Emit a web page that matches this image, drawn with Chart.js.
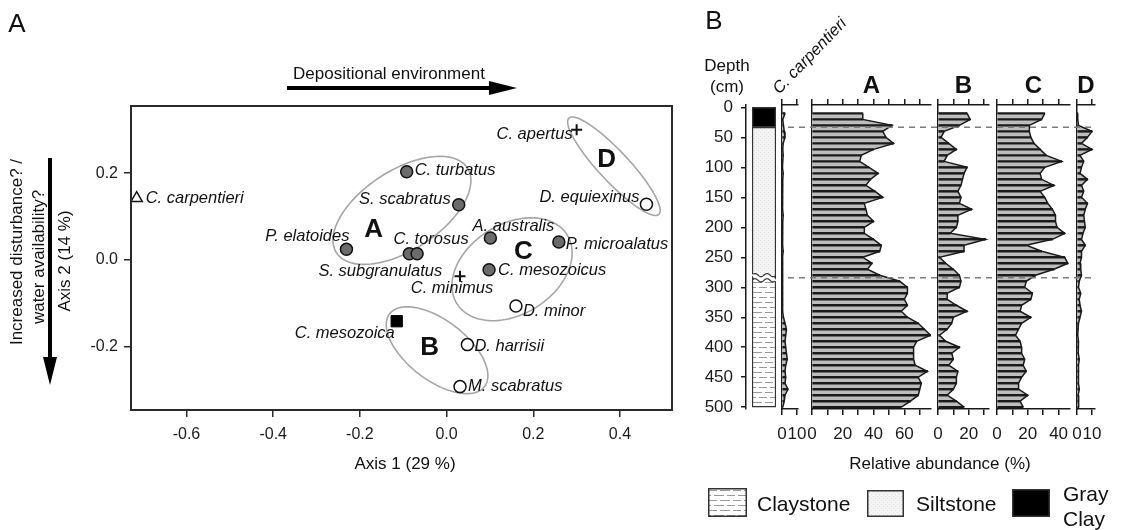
<!DOCTYPE html>
<html><head><meta charset="utf-8"><title>Ordination and stratigraphic distribution</title>
<script src="https://cdn.jsdelivr.net/npm/chart.js@4.4.1/dist/chart.umd.min.js"></script>
<style>
html,body{margin:0;padding:0;background:#fff}
#wrap{position:relative;width:1121px;height:530px;overflow:hidden;font-family:"Liberation Sans",Arial,Helvetica,sans-serif;color:#111}
#wrap canvas{position:absolute;top:0}
.t{position:absolute;white-space:nowrap;line-height:1}
.c{transform:translate(-50%,-50%)}
.l{transform:translate(0,-50%)}
.r{transform:translate(-50%,-50%) rotate(-90deg)}
</style></head><body><div id="wrap">
<canvas id="ord" width="690" height="530" style="left:0"></canvas>
<canvas id="depthAx"></canvas>
<canvas id="litho"></canvas>
<canvas id="colCarp"></canvas>
<canvas id="colA"></canvas>
<canvas id="colB"></canvas>
<canvas id="colC"></canvas>
<canvas id="colD"></canvas>
<canvas id="bounds"></canvas>
<canvas id="swClay" width="39" height="29" style="left:708px;top:488px"></canvas>
<canvas id="swSilt" width="37" height="27" style="left:867px;top:490px"></canvas>
<canvas id="swGray" width="38" height="28" style="left:1012px;top:489px"></canvas>
<svg width="1121" height="530" style="position:absolute;left:0;top:0;pointer-events:none">
 <line x1="287" y1="88" x2="494" y2="88" stroke="#000" stroke-width="4"/>
 <polygon points="517,88 489,81 489,95" fill="#000"/>
 <line x1="50" y1="158" x2="50" y2="362" stroke="#000" stroke-width="4"/>
 <polygon points="50,385 43,357 57,357" fill="#000"/>
</svg>
<div class="t c" style="left:17px;top:23px;font-size:26px">A</div>
<div class="t c" style="left:714px;top:20px;font-size:26px">B</div>
<div class="t c" style="left:389px;top:73px;font-size:17px">Depositional environment</div>
<div class="t c" style="left:405px;top:463px;font-size:17px">Axis 1 (29 %)</div>
<div class="t r" style="left:64px;top:261px;font-size:17px">Axis 2 (14 %)</div>
<div class="t r" style="left:16px;top:252px;font-size:17px">Increased disturbance? /</div>
<div class="t r" style="left:38px;top:257px;font-size:17px">water availability?</div>
<div class="t c" style="left:727px;top:65px;font-size:17px">Depth</div>
<div class="t c" style="left:727px;top:86px;font-size:17px">(cm)</div>
<div class="t" style="left:781px;top:80px;font-size:16.5px;font-style:italic;transform-origin:0 100%;transform:rotate(-46deg)">C. carpentieri</div>
<div class="t c" style="left:871.5px;top:85px;font-size:24px;font-weight:bold">A</div>
<div class="t c" style="left:963.5px;top:85px;font-size:24px;font-weight:bold">B</div>
<div class="t c" style="left:1033.5px;top:85px;font-size:24px;font-weight:bold">C</div>
<div class="t c" style="left:1086px;top:85px;font-size:24px;font-weight:bold">D</div>
<div class="t c" style="left:940px;top:463px;font-size:17px">Relative abundance (%)</div>
<div class="t l" style="left:757px;top:503px;font-size:21px">Claystone</div>
<div class="t l" style="left:916px;top:503px;font-size:21px">Siltstone</div>
<div class="t l" style="left:1063px;top:493px;font-size:21px">Gray</div>
<div class="t l" style="left:1063px;top:518px;font-size:21px">Clay</div>
</div>
<script>
// ---------------- DATA: panel A (ordination) ----------------
const species = ["C. carpentieri","C. turbatus","S. scabratus","P. elatoides","S. subgranulatus","C. torosus","A. australis","P. microalatus","C. mesozoicus","C. apertus","D. equiexinus","C. minimus","D. minor","C. mesozoica","D. harrisii","M. scabratus"];
const axis1 = [-0.715,-0.092,0.028,-0.231,-0.086,-0.068,0.101,0.259,0.098,0.300,0.461,0.031,0.160,-0.115,0.048,0.031];
const axis2 = [0.142,0.203,0.127,0.024,0.014,0.014,0.050,0.041,-0.023,0.300,0.128,-0.038,-0.107,-0.142,-0.196,-0.293];
const markerGroup = ["triangle","filled","filled","filled","filled","filled","filled","filled","filled","cross","open","cross","open","square","open","open"];
const groupNames = ["A","B","C","D"];
const groupCentreX = [-0.103,-0.022,0.151,0.386];
const groupCentreY = [0.114,-0.209,-0.022,0.216];
const groupSemiMajor = [0.180,0.138,0.150,0.152];
const groupSemiMinor = [0.092,0.069,0.104,0.035];
const groupAngleDeg = [33,-37.5,32,-47];
const groupLabelX = [-0.168,-0.039,0.177,0.369];
const groupLabelY = [0.070,-0.204,0.018,0.230];
const axis1Ticks = [-0.6,-0.4,-0.2,0.0,0.2,0.4];
const axis2Ticks = [-0.2,0.0,0.2];

// ---------------- DATA: panel B (stratigraphy) ----------------
const depth = [10,20,30,40,50,60,70,80,90,100,110,120,130,140,150,160,170,180,190,200,210,220,230,240,250,260,270,280,290,300,310,320,330,340,350,360,370,380,390,400,410,420,430,440,450,460,470,480,490,500];
const cCarpentieri = [2,0.5,1,1.5,2,0.8,0.5,0.8,0.5,0.3,0.8,0.5,0.3,0.5,0.3,0.5,0.3,0.8,0.5,0.3,0.5,0.3,0.5,0.8,0.3,0.5,0.3,0.5,0.3,0.5,0.3,0.5,0.3,0.5,1,2,3,2.5,2,2.5,3,3.5,2.5,2,2.5,2,4,2,1.5,0.5];
const groupA = [33,33,52,46,48,53,40,32,31,37,43,38,35,41,46,34,35,36,40,34,34,40,45,44,33,39,36,44,57,62,62,60,62,58,62,69,73,77,68,66,66,66,67,75,69,71,70,69,64,58];
const groupB = [19,21,14,4,2,7,12,6,4,19,17,16,15,13,15,14,22,13,13,12,8,31,17,17,1,5,10,14,15,14,6,6,12,19,10,9,6,1,5,14,9,10,7,13,12,12,10,6,12,17];
const groupC = [31,29,21,21,22,24,28,32,42,31,28,29,37,28,31,33,36,38,38,39,44,36,19,29,44,46,37,25,19,18,23,22,16,15,22,16,14,12,15,16,16,18,17,19,16,14,14,20,15,17];
const groupD = [0.3,0.5,1,10,7,3,10,2,4.5,3,2,7,3,4.5,3,7,5.5,4.5,5,5.5,4,3,5.5,3,3,2,2.5,3,1.5,1,2.5,1.5,2,3,2,1,0.7,0.5,1,1,0.7,1.5,1,1.2,0.7,1,1.5,0.8,1,1.2];
const depthTicks = [0,50,100,150,200,250,300,350,400,450,500];
const lithoNames = ["Gray Clay","Siltstone","Claystone"];
const lithoTop = [0,33,284];
const lithoBase = [33,284,500];

// ---------------- STYLE / LAYOUT ----------------
const FONT = '"Liberation Sans", Arial, Helvetica, sans-serif';
Chart.defaults.font.family = FONT;
Chart.defaults.color = '#1a1a1a';
const INK = '#1a1a1a', FILL = '#bdbdbd';
const H = 530, TOP = 105, BOTTOM = 409, DMIN = -4, DMAX = 503;
const noPlug = {legend:{display:false}, tooltip:{enabled:false}};

const labelPlacement = {
 "C. carpentieri":[9,0,'left'], "C. turbatus":[8,-1,'left'], "S. scabratus":[-8,-5,'right'],
 "P. elatoides":[3,-13,'right'], "C. torosus":[14,-14,'center'], "S. subgranulatus":[-29,18,'center'],
 "A. australis":[23,-12,'center'], "P. microalatus":[7,2,'left'], "C. mesozoicus":[9,1,'left'],
 "C. apertus":[-4,5,'right'], "D. equiexinus":[-7,-7,'right'], "C. minimus":[-8,12,'center'],
 "D. minor":[7,5,'left'], "C. mesozoica":[-2,12,'right'], "D. harrisii":[7,2,'left'], "M. scabratus":[8,0,'left']
};
const markerStyles = {
 filled:{pointStyle:'circle', pointRadius:6, pointBackgroundColor:'#6b6b6b', pointBorderColor:'#111', pointBorderWidth:1.5},
 open:{pointStyle:'circle', pointRadius:6, pointBackgroundColor:'#fff', pointBorderColor:'#111', pointBorderWidth:1.5},
 cross:{pointStyle:'cross', pointRadius:5.5, pointBorderColor:'#111', pointBorderWidth:2},
 triangle:{pointStyle:'triangle', pointRadius:6.5, pointBackgroundColor:'#fff', pointBorderColor:'#111', pointBorderWidth:1.5},
 square:{pointStyle:'rect', pointRadius:8, pointBackgroundColor:'#000', pointBorderColor:'#000', pointBorderWidth:1}
};

// ---------------- PANEL A ----------------
const ordDatasets = Object.keys(markerStyles).map(k => Object.assign({
  label:k,
  data: species.map((s,i)=>({x:axis1[i], y:axis2[i], g:markerGroup[i]})).filter(p=>p.g===k)
}, markerStyles[k]));

const ellipsePlugin = {
  id:'ellipses',
  beforeDatasetsDraw(chart){
    const {ctx, scales:{x, y}} = chart;
    ctx.save();
    ctx.strokeStyle = '#a6a6a6'; ctx.lineWidth = 1.6;
    groupNames.forEach((g,i)=>{
      const th = groupAngleDeg[i]*Math.PI/180, a = groupSemiMajor[i], b = groupSemiMinor[i];
      ctx.beginPath();
      for (let k=0;k<=120;k++){
        const t = k/120*2*Math.PI;
        const dx = groupCentreX[i] + a*Math.cos(t)*Math.cos(th) - b*Math.sin(t)*Math.sin(th);
        const dy = groupCentreY[i] + a*Math.cos(t)*Math.sin(th) + b*Math.sin(t)*Math.cos(th);
        const px = x.getPixelForValue(dx), py = y.getPixelForValue(dy);
        if (k===0) ctx.moveTo(px,py); else ctx.lineTo(px,py);
      }
      ctx.closePath(); ctx.stroke();
    });
    ctx.restore();
  },
  afterDatasetsDraw(chart){
    const {ctx, scales:{x, y}, chartArea:a} = chart;
    ctx.save();
    ctx.fillStyle = '#111'; ctx.textBaseline = 'middle';
    ctx.font = 'italic 16.5px ' + FONT;
    species.forEach((s,i)=>{
      const p = labelPlacement[s];
      ctx.textAlign = p[2];
      ctx.fillText(s, x.getPixelForValue(axis1[i]) + p[0], y.getPixelForValue(axis2[i]) + p[1]);
    });
    ctx.font = 'bold 26px ' + FONT; ctx.textAlign = 'center';
    groupNames.forEach((g,i)=>{
      ctx.fillText(g, x.getPixelForValue(groupLabelX[i]), y.getPixelForValue(groupLabelY[i]));
    });
    ctx.strokeStyle = '#2a2a2a'; ctx.lineWidth = 2;
    ctx.strokeRect(a.left, a.top, a.right-a.left, a.bottom-a.top);
    ctx.restore();
  }
};

new Chart(document.getElementById('ord'), {
  type:'scatter',
  data:{datasets:ordDatasets},
  options:{
    responsive:false, animation:false,
    layout:{padding:{left:71,right:18,top:106,bottom:80}},
    plugins:noPlug,
    scales:{
      x:{type:'linear', min:-0.728, max:0.52,
         afterBuildTicks:s=>{s.ticks = axis1Ticks.map(v=>({value:v}));},
         afterFit:s=>{s.height = 40;},
         ticks:{callback:v=>Number(v).toFixed(1), font:{size:16}, color:'#1a1a1a', padding:8, autoSkip:false, maxRotation:0},
         grid:{drawOnChartArea:false, tickLength:7, color:'#2a2a2a', lineWidth:1.5},
         border:{color:'#2a2a2a', width:2}},
      y:{type:'linear', min:-0.347, max:0.355,
         afterBuildTicks:s=>{s.ticks = axis2Ticks.map(v=>({value:v}));},
         afterFit:s=>{s.width = 60;},
         ticks:{callback:v=>Number(v).toFixed(1), font:{size:16}, color:'#1a1a1a', padding:6, autoSkip:false},
         grid:{drawOnChartArea:false, tickLength:7, color:'#2a2a2a', lineWidth:1.5},
         border:{color:'#2a2a2a', width:2}}
    }
  },
  plugins:[ellipsePlugin]
});

// ---------------- PANEL B patterns ----------------
function clayPattern(ctx){
  const c = document.createElement('canvas'); c.width = 24; c.height = 10;
  const g = c.getContext('2d');
  g.fillStyle = '#ffffff'; g.fillRect(0,0,24,10);
  g.strokeStyle = '#9a9a9a'; g.lineWidth = 1;
  g.beginPath();
  g.moveTo(1,2.5); g.lineTo(9,2.5); g.moveTo(12,2.5); g.lineTo(22,2.5);
  g.moveTo(0,7.5); g.lineTo(3,7.5); g.moveTo(6,7.5); g.lineTo(16,7.5); g.moveTo(19,7.5); g.lineTo(24,7.5);
  g.stroke();
  return ctx.createPattern(c,'repeat');
}
function siltPattern(ctx){
  const c = document.createElement('canvas'); c.width = 4; c.height = 4;
  const g = c.getContext('2d');
  g.fillStyle = '#f4f4f4'; g.fillRect(0,0,4,4);
  g.fillStyle = '#dedede'; g.fillRect(0,0,1,1); g.fillRect(2,2,1,1);
  return ctx.createPattern(c,'repeat');
}
function swatch(id, fill){
  const c = document.getElementById(id), g = c.getContext('2d');
  g.fillStyle = fill(g); g.fillRect(0,0,c.width,c.height);
  g.strokeStyle = '#333'; g.lineWidth = 1.5; g.strokeRect(0.75,0.75,c.width-1.5,c.height-1.5);
}
swatch('swClay', clayPattern);
swatch('swSilt', siltPattern);
swatch('swGray', ()=>'#000');

// ---------------- depth axis ----------------
(function(){
  const cv = document.getElementById('depthAx');
  cv.width = 60; cv.height = H; cv.style.left = '690px';
  new Chart(cv, {
    type:'scatter', data:{datasets:[]},
    options:{responsive:false, animation:false, plugins:noPlug,
      layout:{padding:{left:0,right:3,top:TOP,bottom:H-BOTTOM}},
      scales:{
        x:{display:false, min:0, max:1},
        y:{type:'linear', reverse:true, min:DMIN, max:DMAX,
           afterBuildTicks:s=>{s.ticks = depthTicks.map(v=>({value:v}));},
           afterFit:s=>{s.width = 56;},
           ticks:{font:{size:17}, color:INK, padding:8, autoSkip:false},
           grid:{drawOnChartArea:false, tickLength:5, color:INK, lineWidth:1.5},
           border:{color:INK, width:1.5}}
      }}
  });
})();

// ---------------- lithology ----------------
(function(){
  const cv = document.getElementById('litho');
  cv.width = 42; cv.height = H; cv.style.left = '740px';
  const ctx = cv.getContext('2d');
  const fills = ['#000000', siltPattern(ctx), clayPattern(ctx)];
  const wave = {
    id:'wave',
    afterDatasetsDraw(chart){
      const {ctx, chartArea:a, scales:{y}} = chart;
      const yy = y.getPixelForValue(lithoTop[2]);
      const path = (off)=>{ ctx.beginPath();
        for (let px=a.left+1; px<=a.right-1; px+=0.5){
          const py = yy + off - 1.6*Math.sin((px-a.left)/(a.right-a.left)*4*Math.PI);
          if (px===a.left+1) ctx.moveTo(px,py); else ctx.lineTo(px,py);
        } };
      ctx.save();
      ctx.strokeStyle = '#fff'; ctx.lineWidth = 5; path(0); ctx.stroke();
      ctx.strokeStyle = '#333'; ctx.lineWidth = 1.2; path(-2.6); ctx.stroke(); path(2.6); ctx.stroke();
      ctx.restore();
    }
  };
  new Chart(cv, {
    type:'bar',
    data:{labels:['core'], datasets: lithoNames.map((n,i)=>({label:n, data:[[lithoTop[i], lithoBase[i]]],
       backgroundColor:fills[i], borderColor:'#333', borderWidth:1.5, borderSkipped:false,
       grouped:false, barPercentage:1, categoryPercentage:1}))},
    options:{responsive:false, animation:false, plugins:noPlug,
      layout:{padding:{left:12,right:6,top:TOP,bottom:H-BOTTOM}},
      scales:{x:{display:false}, y:{display:false, type:'linear', reverse:true, min:DMIN, max:DMAX}}},
    plugins:[wave]
  });
})();

// ---------------- abundance columns ----------------
function makeColumn(id, areaLeft, areaRight, xmax, marks, labelled, values){
  const padL = 24, padR = 24;
  const cv = document.getElementById(id);
  cv.width = (areaRight - areaLeft) + padL + padR; cv.height = H;
  cv.style.left = (areaLeft - padL) + 'px';
  const pts = depth.map((d,i)=>({x:values[i], y:d}));
  const setTicks = s=>{ s.ticks = marks.map(v=>({value:v})); };
  const grid = {drawOnChartArea:false, tickLength:6, color:INK, lineWidth:1.5};
  const border = {color:INK, width:1.5};
  return new Chart(cv, {
    type:'bar',
    data:{datasets:[
      {type:'line', indexAxis:'y', data:pts, fill:'origin', backgroundColor:FILL, borderColor:INK, borderWidth:1.5, pointRadius:0, tension:0, order:2},
      {type:'bar', indexAxis:'y', data:pts, backgroundColor:INK, barThickness:1.8, order:1}
    ]},
    options:{
      indexAxis:'y', responsive:false, animation:false, plugins:noPlug,
      layout:{padding:{left:padL, right:padR, top:TOP-10, bottom:H-BOTTOM-40}},
      scales:{
        y:{type:'linear', reverse:true, min:DMIN, max:DMAX, offset:false,
           ticks:{display:false}, grid:{display:true, drawOnChartArea:false, drawTicks:false, offset:false},
           border:border, afterFit:s=>{s.width = 0;}},
        x:{type:'linear', position:'bottom', min:0, max:xmax, afterBuildTicks:setTicks,
           ticks:{autoSkip:false, maxRotation:0, padding:9, font:{size:17}, color:INK,
                  callback:v=>labelled.includes(v) ? String(v) : ''},
           grid:grid, border:border, afterFit:s=>{s.height = 40;}},
        x2:{type:'linear', axis:'x', position:'top', min:0, max:xmax, afterBuildTicks:setTicks,
           ticks:{display:false}, grid:grid, border:border, afterFit:s=>{s.height = 10;}}
      }
    }
  });
}
makeColumn('colCarp', 782, 798, 10.7, [0,10], [0,10], cCarpentieri);
makeColumn('colA', 812, 931, 77.3, [0,10,20,30,40,50,60,70], [0,20,40,60], groupA);
makeColumn('colB', 938, 989, 33.3, [0,10,20,30], [0,20], groupB);
makeColumn('colC', 997, 1070, 47.4, [0,10,20,30,40], [0,20,40], groupC);
makeColumn('colD', 1077, 1095, 12, [0,10], [0,10], groupD);

// ---------------- lithological boundaries (dashed) ----------------
(function(){
  const cv = document.getElementById('bounds');
  cv.width = 311; cv.height = H; cv.style.left = '786px';
  new Chart(cv, {
    type:'scatter',
    data:{datasets:[lithoBase[0], lithoBase[1]].map(b=>({data:[{x:0,y:b},{x:1,y:b}], showLine:true,
      borderColor:'#7c7c7c', borderWidth:1.6, borderDash:[6,5], pointRadius:0}))},
    options:{responsive:false, animation:false, plugins:noPlug,
      layout:{padding:{left:2,right:2,top:TOP,bottom:H-BOTTOM}},
      scales:{x:{display:false, min:0, max:1}, y:{display:false, reverse:true, min:DMIN, max:DMAX}}}
  });
})();
</script>
</body></html>
